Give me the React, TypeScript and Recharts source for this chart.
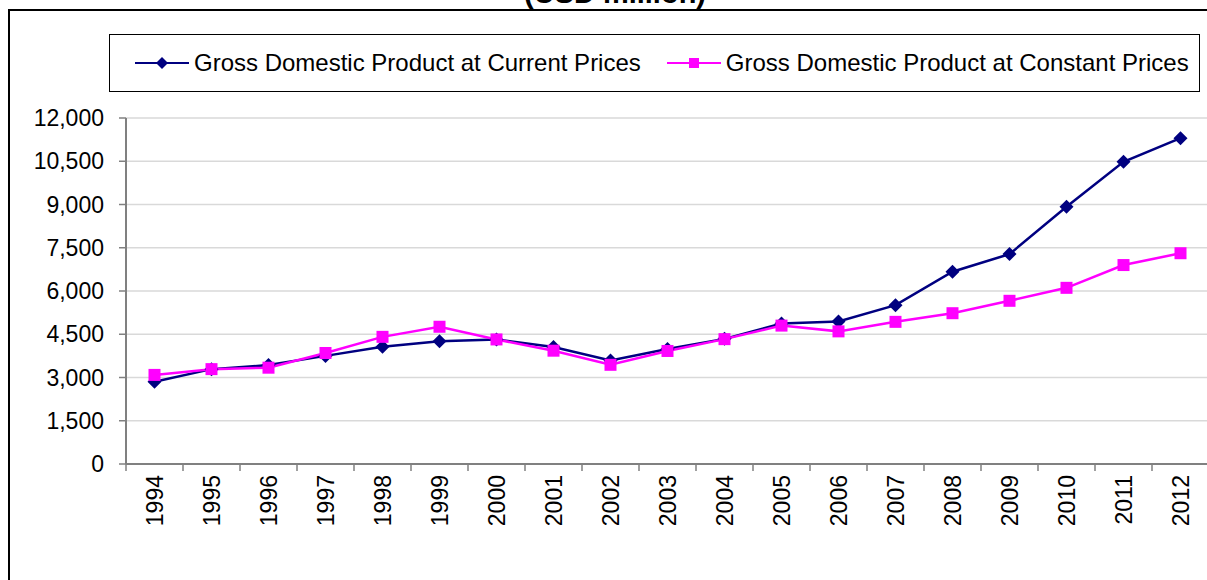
import React from "react";
import { CartesianGrid, Legend, Line, LineChart, XAxis, YAxis } from "recharts";

const years = [1994, 1995, 1996, 1997, 1998, 1999, 2000, 2001, 2002, 2003, 2004, 2005, 2006, 2007, 2008, 2009, 2010, 2011, 2012];
const currentPrices = [2850, 3290, 3430, 3750, 4070, 4260, 4320, 4060, 3590, 3990, 4340, 4870, 4940, 5510, 6670, 7280, 8920, 10480, 11300];
const constantPrices = [3090, 3290, 3340, 3850, 4410, 4760, 4320, 3930, 3440, 3920, 4330, 4800, 4600, 4930, 5230, 5660, 6110, 6900, 7310];
const yTicks = [0, 1500, 3000, 4500, 6000, 7500, 9000, 10500, 12000];

const TITLE = "(USD million)";
const CURRENT = "Gross Domestic Product at Current Prices";
const CONSTANT = "Gross Domestic Product at Constant Prices";
const seriesOrder = ["current", "constant"];

const FONT = "Arial, 'Liberation Sans', sans-serif";
const NAVY = "#000080";
const MAGENTA = "#ff00ff";
const AXIS = "#808080";

const data = years.map((year, i) => ({
  year,
  current: currentPrices[i],
  constant: constantPrices[i],
}));

// year ticks get labels, half-year ticks become the tick marks between categories
const xTicks = [years[0] - 0.5, ...years.flatMap((y) => [y, y + 0.5])];

const Diamond = ({ cx, cy, size = 6, color = NAVY }: any) => (
  <path d={`M${cx},${cy - size}L${cx + size},${cy}L${cx},${cy + size}L${cx - size},${cy}Z`} fill={color} />
);

const Square = ({ cx, cy, size = 6, color = MAGENTA }: any) => (
  <rect x={cx - size} y={cy - size} width={size * 2} height={size * 2} fill={color} />
);

const YearTick = ({ x, y, payload }: any) => {
  const v = payload.value;
  if (!Number.isInteger(v)) {
    return <line x1={x} y1={y} x2={x} y2={y + 7} stroke={AXIS} strokeWidth={1.5} />;
  }
  return (
    <text
      x={x}
      y={y + 11}
      dy={8}
      transform={`rotate(-90, ${x}, ${y + 11})`}
      textAnchor="end"
      fontFamily={FONT}
      fontSize={23}
      fill="#000"
    >
      {v}
    </text>
  );
};

const LegendBox = ({ payload }: any) => {
  const items = [...(payload || [])].sort(
    (a: any, b: any) => seriesOrder.indexOf(a.dataKey) - seriesOrder.indexOf(b.dataKey)
  );
  return (
    <div
      style={{
        boxSizing: "border-box",
        height: 58,
        border: "1px solid #000",
        background: "#fff",
        display: "flex",
        alignItems: "center",
        paddingLeft: 25,
        fontFamily: FONT,
        fontSize: 24,
        color: "#000",
        whiteSpace: "nowrap",
      }}
    >
      {items.map((entry: any, i: number) => (
        <div key={entry.value} style={{ display: "flex", alignItems: "center", marginLeft: i === 0 ? 0 : 26 }}>
          <svg width={54} height={16} style={{ marginRight: 5 }}>
            <line x1={0} y1={8} x2={54} y2={8} stroke={entry.color} strokeWidth={2} />
            {entry.dataKey === "current" ? (
              <Diamond cx={27} cy={8} size={6} color={entry.color} />
            ) : (
              <Square cx={27} cy={8} size={5} color={entry.color} />
            )}
          </svg>
          <span>{entry.value}</span>
        </div>
      ))}
    </div>
  );
};

export default function App() {
  return (
    <div style={{ position: "absolute", left: 0, top: 0, width: 1207, height: 580, overflow: "hidden", background: "#fff" }}>
      <div
        style={{
          position: "absolute",
          left: 8,
          top: 9,
          width: 1300,
          height: 700,
          border: "2px solid #000",
          boxSizing: "border-box",
        }}
      />
      <svg width={1207} height={20} style={{ position: "absolute", left: 0, top: 0 }}>
        <text x={615} y={3} textAnchor="middle" fontFamily={FONT} fontWeight="bold" fontSize={29}>
          {TITLE}
        </text>
      </svg>
      <div style={{ position: "absolute", left: 0, top: 0 }}>
        <LineChart width={1220} height={580} data={data} margin={{ top: 118, right: 11, bottom: 0, left: 0 }}>
          <CartesianGrid vertical={false} stroke="#d9d9d9" strokeWidth={1.5} />
          <XAxis
            dataKey="year"
            type="number"
            domain={[years[0] - 0.5, years[years.length - 1] + 0.5]}
            ticks={xTicks}
            interval={0}
            height={116}
            tickLine={false}
            tickSize={0}
            tickMargin={0}
            tick={<YearTick />}
            axisLine={{ stroke: AXIS, strokeWidth: 2 }}
          />
          <YAxis
            domain={[0, 12000]}
            ticks={yTicks}
            interval={0}
            width={126}
            tickSize={7}
            tickMargin={15}
            tickLine={{ stroke: AXIS, strokeWidth: 1.5 }}
            axisLine={{ stroke: AXIS, strokeWidth: 2 }}
            tick={{ fill: "#000", fontSize: 23, fontFamily: FONT }}
            tickFormatter={(v: number) => v.toLocaleString("en-US")}
          />
          <Legend
            layout="horizontal"
            verticalAlign="middle"
            align="center"
            wrapperStyle={{ top: 34, left: 109, width: 1091 }}
            content={<LegendBox />}
          />
          <Line
            type="linear"
            dataKey="current"
            name={CURRENT}
            stroke={NAVY}
            strokeWidth={2.5}
            dot={(p: any) => <Diamond key={p.index} cx={p.cx} cy={p.cy} size={7} />}
            activeDot={false}
            isAnimationActive={false}
          />
          <Line
            type="linear"
            dataKey="constant"
            name={CONSTANT}
            stroke={MAGENTA}
            strokeWidth={2.5}
            dot={(p: any) => <Square key={p.index} cx={p.cx} cy={p.cy} size={6} />}
            activeDot={false}
            isAnimationActive={false}
          />
        </LineChart>
      </div>
    </div>
  );
}
